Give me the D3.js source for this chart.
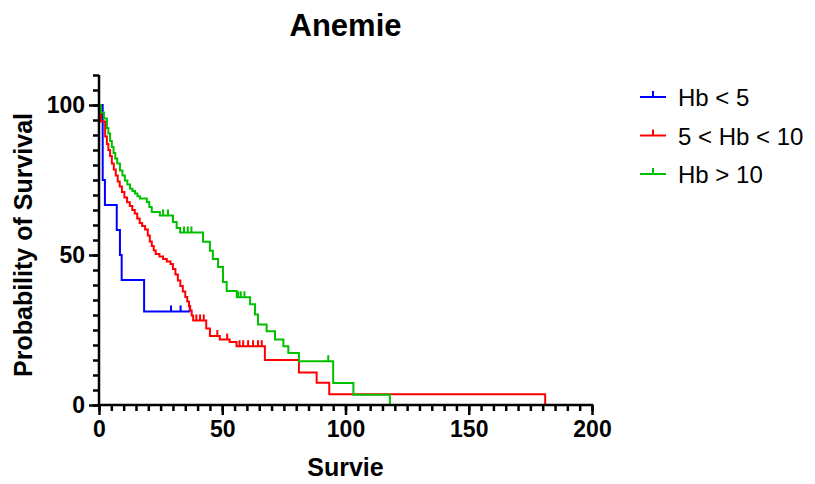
<!DOCTYPE html>
<html>
<head>
<meta charset="utf-8">
<script src="https://cdn.jsdelivr.net/npm/d3@7"></script>
<style>
  body { margin: 0; background: #fff; }
  svg { display: block; font-family: "Liberation Sans", Arial, Helvetica, sans-serif; }
</style>
</head>
<body>
<div id="chart"></div>
<script>
// Kaplan-Meier steps: [time, survival % after the step]
const lowHb = [[0, 100], [1.5, 75], [2.4, 66.7], [7.2, 58.3], [8.5, 50], [9.2, 41.7], [18.3, 31.2]];
const lowHbEnd = 37;
const lowHbCensor = [29.2, 33.1, 36.8];

const midHb = [[0, 100], [0.8, 94.5], [2.5, 89.5], [3.2, 87], [3.8, 85], [4.5, 83], [5.2, 80.5], [6, 78.5],
  [6.8, 76.5], [7.6, 74.5], [8.4, 72.8], [9.3, 71], [10.3, 69.2], [11.4, 67.6], [12.5, 66.3], [13.5, 65],
  [14.5, 63.8], [15.5, 62.2], [16.5, 60.7], [17.5, 59.7], [18.7, 58.5], [19.8, 56.5], [20.6, 54.5],
  [21.4, 53], [22.2, 51.5], [23, 50.3], [24.5, 49.5], [26, 48.7], [27.5, 47.8], [29, 47], [30, 45.3],
  [31, 43.5], [32, 41.5], [33, 39.7], [34, 37.8], [35, 36], [35.8, 34.5], [36.5, 33], [37, 31.5],
  [37.6, 29.8], [38.2, 28.2], [43.5, 25.5], [45, 23], [49, 21.8], [53, 21], [55.8, 19.6], [67.3, 15],
  [81.1, 10.8], [88.3, 7.4], [93.4, 3.6], [181, 0]];
const midHbEnd = 181;
const midHbCensor = [39.5, 41, 42.5, 48, 52, 57, 58.5, 60.5, 62.5, 64.5, 66];

const highHb = [[0, 100], [0.8, 97.5], [2, 95.5], [3.2, 92.3], [3.8, 90.5], [4.5, 88], [5.2, 86], [5.9, 84],
  [6.6, 82.2], [7.4, 80.5], [8.5, 78.2], [9.5, 76.5], [10.5, 74.8], [11.5, 73.5], [12.6, 72.1],
  [13.6, 71.3], [14.6, 70.5], [15.6, 69.6], [16.6, 68.8], [19.4, 67.7], [20.4, 66], [21.4, 64.3],
  [24.7, 63.2], [30, 61], [31.5, 59], [32.9, 57.5], [42.2, 54.4], [45, 51.4], [46.2, 48.7], [48.3, 46],
  [50.3, 41], [51.8, 38], [55.9, 35.9], [61.3, 33.6], [63.3, 30.2], [64.5, 26.8], [68, 24.6],
  [71.4, 21.8], [74.8, 19.6], [76.8, 17.3], [81.1, 14.6], [95, 7.3], [103.2, 3.4], [118, 0]];
const highHbEnd = 118;
const highHbCensor = [26, 28, 30, 34.5, 36, 37.5, 56.5, 57.5, 59, 93];

const seriesNames = ['Hb < 5', '5 < Hb < 10', 'Hb > 10'];
const seriesColors = ['#0000ff', '#ff0000', '#00c000'];
const xMajor = [0, 50, 100, 150, 200];
const yMajor = [0, 50, 100];

const series = [
  { steps: lowHb, end: lowHbEnd, censor: lowHbCensor },
  { steps: midHb, end: midHbEnd, censor: midHbCensor },
  { steps: highHb, end: highHbEnd, censor: highHbCensor },
].map((s, i) => ({ ...s, name: seriesNames[i], color: seriesColors[i] }));

const width = 815;
const height = 484;
const margin = { top: 75, right: 223, bottom: 79, left: 99 };

const svg = d3.select('#chart').append('svg').attr('width', width).attr('height', height);

const x = d3.scaleLinear().domain([0, 200]).range([margin.left, width - margin.right]);
const y = d3.scaleLinear().domain([0, 110]).range([height - margin.bottom, margin.top]);
const y0 = y(0);

// survival value at time t (step function)
function survAt(steps, t) {
  let v = steps[0][1];
  for (const [tt, s] of steps) if (tt <= t) v = s;
  return v;
}

// curves
const line = d3.line().x((d) => x(d[0])).y((d) => y(d[1])).curve(d3.curveStepAfter);
series.forEach((s) => {
  const pts = [...s.steps];
  const last = pts[pts.length - 1];
  if (last[0] < s.end) pts.push([s.end, last[1]]);
  svg.append('path').attr('d', line(pts)).attr('fill', 'none')
    .attr('stroke', s.color).attr('stroke-width', 2).attr('stroke-linejoin', 'miter');
  s.censor.forEach((t) => {
    const v = survAt(s.steps, t);
    svg.append('line').attr('x1', x(t)).attr('x2', x(t)).attr('y1', y(v)).attr('y2', y(v) - 6)
      .attr('stroke', s.color).attr('stroke-width', 2);
  });
});

// axes: minor ticks every 5, labelled majors
const xMinor = d3.range(0, 201, 5);
const yMinor = d3.range(0, 111, 5);
const xAxis = svg.append('g').attr('transform', `translate(0,${y0})`);
xAxis.append('g').call(d3.axisBottom(x).tickValues(xMinor).tickSize(6).tickFormat(''));
xAxis.append('g').call(d3.axisBottom(x).tickValues(xMajor).tickSize(10).tickPadding(6).tickFormat(d3.format('d')));
const yAxis = svg.append('g').attr('transform', `translate(${x(0)},0)`);
yAxis.append('g').call(d3.axisLeft(y).tickValues(yMinor).tickSize(6).tickFormat(''));
yAxis.append('g').call(d3.axisLeft(y).tickValues(yMajor).tickSize(10).tickPadding(4).tickFormat(d3.format('d')));

svg.selectAll('.domain').remove();
svg.selectAll('.tick line').attr('stroke', '#000').attr('stroke-width', 2.5);
svg.selectAll('.tick text').attr('fill', '#000').attr('font-size', 23).attr('font-weight', 700)
  .attr('font-family', '"Liberation Sans", Arial, sans-serif');
xAxis.append('path').attr('d', `M${x(0) - 1.25},0H${x(200) + 1.25}`).attr('stroke', '#000').attr('stroke-width', 2.5);
yAxis.append('path').attr('d', `M0,${y(0) + 1.25}V${y(110)}`).attr('stroke', '#000').attr('stroke-width', 2.5);

// titles
const cx = (x(0) + x(200)) / 2;
svg.append('text').attr('x', cx).attr('y', 36).attr('text-anchor', 'middle')
  .attr('font-size', 31).attr('font-weight', 700).text('Anemie');
svg.append('text').attr('x', cx).attr('y', 476).attr('text-anchor', 'middle')
  .attr('font-size', 25).attr('font-weight', 700).text('Survie');
svg.append('text').attr('transform', `translate(32,${(y(0) + y(110)) / 2 + 5}) rotate(-90)`)
  .attr('text-anchor', 'middle').attr('font-size', 25).attr('font-weight', 700).text('Probability of Survival');

// legend
const legend = svg.append('g').attr('transform', 'translate(640,97)');
series.forEach((s, i) => {
  const g = legend.append('g').attr('transform', `translate(0,${i * 38.5})`);
  g.append('line').attr('x1', 0).attr('x2', 26).attr('y1', 0).attr('y2', 0)
    .attr('stroke', s.color).attr('stroke-width', 2);
  g.append('line').attr('x1', 13).attr('x2', 13).attr('y1', 0).attr('y2', -6)
    .attr('stroke', s.color).attr('stroke-width', 2);
  g.append('text').attr('x', 38).attr('y', 9).attr('font-size', 24).text(s.name);
});
</script>
</body>
</html>
